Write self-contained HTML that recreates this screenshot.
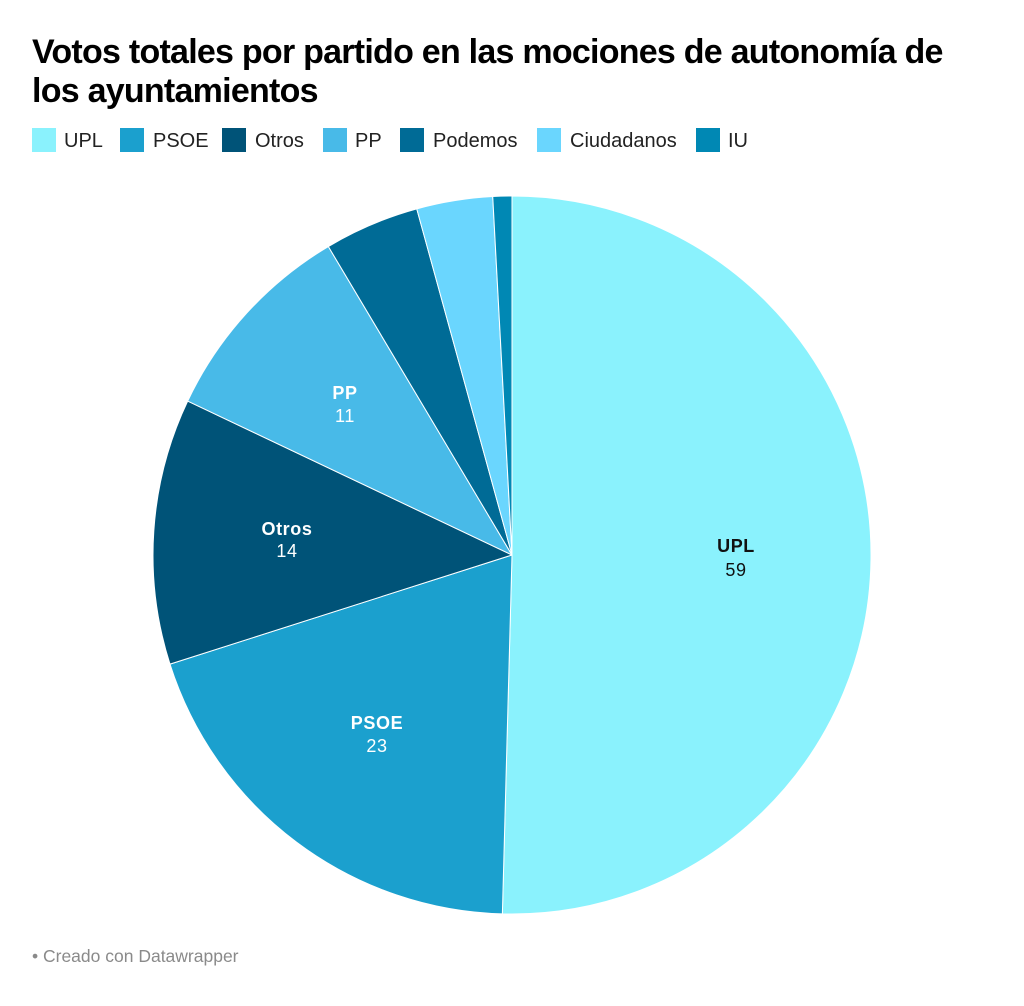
<!DOCTYPE html>
<html>
<head>
<meta charset="utf-8">
<style>
  html, body { margin:0; padding:0; background:#ffffff; }
  body { width:1024px; height:1006px; overflow:hidden; }
  svg { display:block; }
  text { font-family: "Liberation Sans", "DejaVu Sans", sans-serif; }
</style>
</head>
<body>
<svg width="1024" height="1006" viewBox="0 0 1024 1006" xmlns="http://www.w3.org/2000/svg">
  <rect x="0" y="0" width="1024" height="1006" fill="#ffffff"/>

  <!-- Title -->
  <text x="32" y="63" font-size="34" font-weight="700" fill="#000000" letter-spacing="-0.75">Votos totales por partido en las mociones de autonomía de</text>
  <text x="32" y="102" font-size="34" font-weight="700" fill="#000000" letter-spacing="-0.75">los ayuntamientos</text>

  <!-- Legend -->
  <g font-size="20" fill="#222222">
    <rect x="32" y="128" width="24" height="24" fill="#8af2fd"/>
    <text x="64" y="147">UPL</text>
    <rect x="120" y="128" width="24" height="24" fill="#1ba0ce"/>
    <text x="153" y="147">PSOE</text>
    <rect x="222" y="128" width="24" height="24" fill="#005378"/>
    <text x="255" y="147">Otros</text>
    <rect x="323" y="128" width="24" height="24" fill="#48bae8"/>
    <text x="355" y="147">PP</text>
    <rect x="400" y="128" width="24" height="24" fill="#006b96"/>
    <text x="433" y="147">Podemos</text>
    <rect x="537" y="128" width="24" height="24" fill="#6ad6fe"/>
    <text x="570" y="147">Ciudadanos</text>
    <rect x="696" y="128" width="24" height="24" fill="#0088b4"/>
    <text x="728" y="147">IU</text>
  </g>

  <!-- Pie -->
  <g stroke="#ffffff" stroke-width="1" stroke-linejoin="round">
    <path d="M512,555 L512,196 A359,359 0 1 1 502.36,913.87 Z" fill="#8af2fd"/>
    <path d="M512,555 L502.36,913.87 A359,359 0 0 1 169.98,664.10 Z" fill="#1ba0ce"/>
    <path d="M512,555 L169.98,664.10 A359,359 0 0 1 187.66,401.10 Z" fill="#005378"/>
    <path d="M512,555 L187.66,401.10 A359,359 0 0 1 328.34,246.53 Z" fill="#48bae8"/>
    <path d="M512,555 L328.34,246.53 A359,359 0 0 1 416.76,208.86 Z" fill="#006b96"/>
    <path d="M512,555 L416.76,208.86 A359,359 0 0 1 492.73,196.52 Z" fill="#6ad6fe"/>
    <path d="M512,555 L492.73,196.52 A359,359 0 0 1 512,196 Z" fill="#0088b4"/>
  </g>

  <!-- Slice labels -->
  <g text-anchor="middle" font-size="18">
    <text x="736" y="552" font-weight="700" fill="#111111" letter-spacing="0.6">UPL</text>
    <text x="736" y="576" fill="#111111" letter-spacing="0.6">59</text>

    <text x="377" y="729" font-weight="700" fill="#ffffff" letter-spacing="0.6">PSOE</text>
    <text x="377" y="752" fill="#ffffff" letter-spacing="0.6">23</text>

    <text x="287" y="535" font-weight="700" fill="#ffffff" letter-spacing="0.6">Otros</text>
    <text x="287" y="557" fill="#ffffff" letter-spacing="0.6">14</text>

    <text x="345" y="399" font-weight="700" fill="#ffffff" letter-spacing="0.6">PP</text>
    <text x="345" y="422" fill="#ffffff" letter-spacing="0.6">11</text>
  </g>

  <!-- Footer -->
  <text x="32" y="962" font-size="17.5" fill="#8a8a8a">• Creado con Datawrapper</text>
</svg>
</body>
</html>
